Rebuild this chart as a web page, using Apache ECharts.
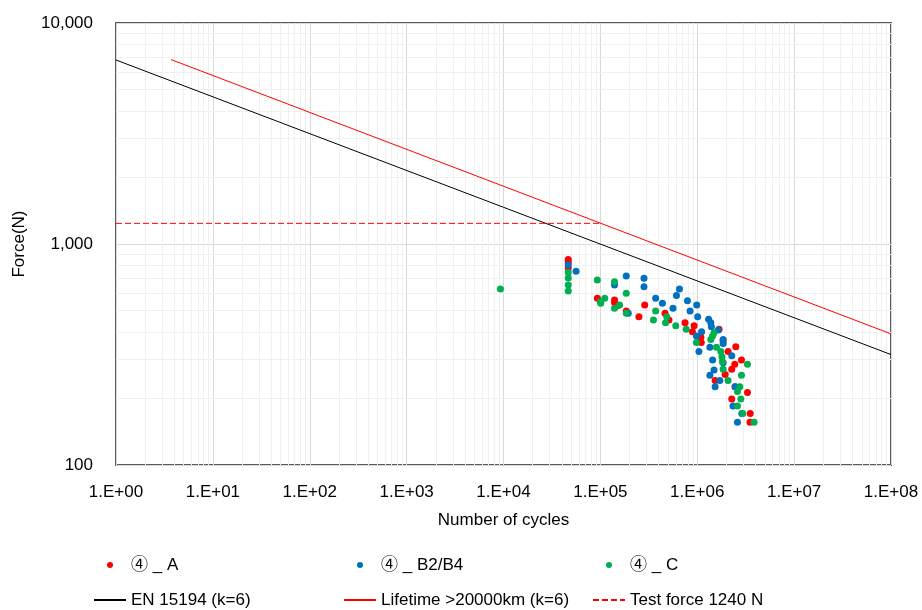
<!DOCTYPE html>
<html>
<head>
<meta charset="utf-8">
<script src="https://cdn.jsdelivr.net/npm/echarts@6/dist/echarts.min.js"></script>
<style>
  html, body { margin: 0; padding: 0; background: #fff; }
  #chart { width: 922px; height: 610px; }
</style>
</head>
<body>
<div id="chart"></div>
<script>
// Fatigue test results: force vs. number of cycles (log-log)

// Sample group ④_A
const cyclesA = [46600, 46600, 46600, 93000, 140000, 140000, 150000, 185000, 250000, 287000,
  465000, 511000, 748000, 927000, 892000, 1090000, 1100000, 1680000, 1850000, 1530000,
  1940000, 2080000, 2500000, 2270000, 2440000, 2860000, 2460000, 3300000, 2270000, 3520000, 3500000];
const forceA = [851, 825, 779, 568, 558, 544, 525, 497, 469, 530,
  486, 453, 440, 427, 401, 378, 358, 411, 365, 241,
  257, 326, 343, 271, 286, 299, 226, 213, 199, 171, 156];

// Sample group ④_B2/B4
const cyclesB = [46600, 56100, 140000, 185000, 194000, 282000, 282000, 372000, 437000, 562000,
  610000, 655000, 792000, 843000, 988000, 1010000, 980000, 1110000, 1040000, 1310000,
  1380000, 1400000, 1350000, 1650000, 1850000, 1850000, 1440000, 1490000, 1350000, 1530000,
  1710000, 1850000, 2270000, 2460000, 2340000, 2880000, 2600000];
const forceB = [803, 752, 652, 716, 486, 700, 641, 568, 539, 512,
  584, 625, 554, 497, 530, 469, 383, 401, 326, 456,
  440, 422, 341, 408, 370, 355, 299, 269, 255, 226,
  241, 290, 312, 226, 185, 171, 156];

// Sample group ④_C
const cyclesC = [9300, 46600, 46600, 46600, 46600, 93000, 100000, 111000, 101000, 140000,
  140000, 158000, 185000, 185000, 353000, 372000, 484000, 470000, 600000, 770000,
  980000, 1490000, 1440000, 1380000, 1580000, 1750000, 1800000, 1820000, 1850000, 2080000,
  3300000, 2860000, 2750000, 2600000, 2820000, 2600000, 2950000, 3860000];
const forceC = [625, 743, 702, 652, 613, 687, 548, 568, 539, 675,
  512, 530, 598, 486, 453, 497, 469, 440, 427, 411,
  358, 397, 383, 370, 341, 326, 309, 293, 271, 241,
  286, 255, 226, 215, 199, 185, 171, 156];

// Reference lines (end points)
const enCycles = [1, 1e8];
const enForce = [6800, 316];
const lifeCycles = [3.7, 1e8];
const lifeForce = [6830, 392];
const testCycles = [1, 1.0e5];
const testForce = [1240, 1240];

// Axis ranges
const xMin = 1, xMax = 1e8;
const yMin = 100, yMax = 10000;

const pairs = (xs, ys) => xs.map((x, i) => [x, ys[i]]);

// Minor grid positions (2..9 within each decade)
const minorX = [];
for (let e = 0; e < 8; e++) for (let m = 2; m <= 9; m++) minorX.push({ xAxis: m * Math.pow(10, e) });
const minorY = [];
for (let e = 2; e < 4; e++) for (let m = 2; m <= 9; m++) minorY.push({ yAxis: m * Math.pow(10, e) });

const FONT = "'Liberation Sans', 'Noto Sans CJK JP', sans-serif";
const txt = { fontFamily: FONT, fontSize: 17, color: '#000' };

const chart = echarts.init(document.getElementById('chart'), null, { renderer: 'canvas' });

const legendBase = {
  orient: 'vertical',
  top: 555,
  padding: 0,
  itemWidth: 32,
  itemHeight: 6,
  itemGap: 15,
  textStyle: Object.assign({ lineHeight: 20 }, txt),
  selectedMode: false
};
// line entries: hide the centre marker, keep only the stroke
const lineEntry = name => ({ name: name, itemStyle: { color: 'rgba(0,0,0,0)', borderColor: 'rgba(0,0,0,0)', borderWidth: 0 } });

const dot = color => ({ color: color, opacity: 1 });

chart.setOption({
  animation: false,
  backgroundColor: '#fff',
  grid: {
    left: 116, right: 31, top: 23, bottom: 145,
    containLabel: false, outerBoundsMode: 'none',
    show: true, borderColor: '#595959', borderWidth: 2, backgroundColor: 'transparent'
  },
  xAxis: {
    type: 'log', logBase: 10, min: xMin, max: xMax, splitNumber: 8,
    name: 'Number of cycles', nameLocation: 'middle', nameGap: 47, nameMoveOverlap: false,
    nameTextStyle: txt,
    axisLine: { show: false }, axisTick: { show: false },
    axisLabel: Object.assign({
      margin: 19,
      formatter: v => {
        const e = Math.round(Math.log10(v));
        return '1.E+' + (e < 10 ? '0' + e : e);
      }
    }, txt),
    splitLine: { show: true, lineStyle: { color: '#d9d9d9', width: 1 } }
  },
  yAxis: {
    type: 'log', logBase: 10, min: yMin, max: yMax, splitNumber: 2,
    name: 'Force(N)', nameLocation: 'middle', nameGap: 88, nameMoveOverlap: false,
    nameTextStyle: txt,
    axisLine: { show: false }, axisTick: { show: false },
    axisLabel: Object.assign({
      margin: 23,
      formatter: v => Math.round(v).toLocaleString('en-US')
    }, txt),
    splitLine: { show: true, lineStyle: { color: '#d9d9d9', width: 1 } }
  },
  legend: [
    Object.assign({ left: 93, data: ['④ _ A', lineEntry('EN 15194 (k=6)')] }, legendBase),
    Object.assign({ left: 343, data: ['④ _ B2/B4', lineEntry('Lifetime >20000km (k=6)')] }, legendBase),
    Object.assign({ left: 592, data: ['④ _ C', lineEntry('Test force 1240 N')] }, legendBase)
  ],
  series: [
    {
      name: 'minor-grid', type: 'line', data: [], z: 0, silent: true,
      markLine: {
        silent: true, symbol: 'none', label: { show: false }, animation: false, z: 0,
        lineStyle: { color: '#f0f0f0', width: 1, type: 'solid' },
        emphasis: { disabled: true },
        data: minorX.concat(minorY)
      }
    },
    {
      name: '④ _ A', type: 'scatter', symbol: 'circle', symbolSize: 7, z: 3,
      itemStyle: dot('#FF0000'), data: pairs(cyclesA, forceA)
    },
    {
      name: '④ _ B2/B4', type: 'scatter', symbol: 'circle', symbolSize: 7, z: 3,
      itemStyle: dot('#0070C0'), data: pairs(cyclesB, forceB)
    },
    {
      name: '④ _ C', type: 'scatter', symbol: 'circle', symbolSize: 7, z: 3,
      itemStyle: dot('#00B050'), data: pairs(cyclesC, forceC)
    },
    {
      name: 'EN 15194 (k=6)', type: 'line', symbol: 'none', z: 2,
      lineStyle: { color: '#000', width: 1 }, itemStyle: { color: '#000' },
      data: pairs(enCycles, enForce)
    },
    {
      name: 'Lifetime >20000km (k=6)', type: 'line', symbol: 'none', z: 2,
      lineStyle: { color: '#FF0000', width: 1 }, itemStyle: { color: '#FF0000' },
      data: pairs(lifeCycles, lifeForce)
    },
    {
      name: 'Test force 1240 N', type: 'line', symbol: 'none', z: 2,
      lineStyle: { color: '#FF0000', width: 1, type: [6, 3] }, itemStyle: { color: '#FF0000' },
      data: pairs(testCycles, testForce)
    }
  ]
});
</script>
</body>
</html>
